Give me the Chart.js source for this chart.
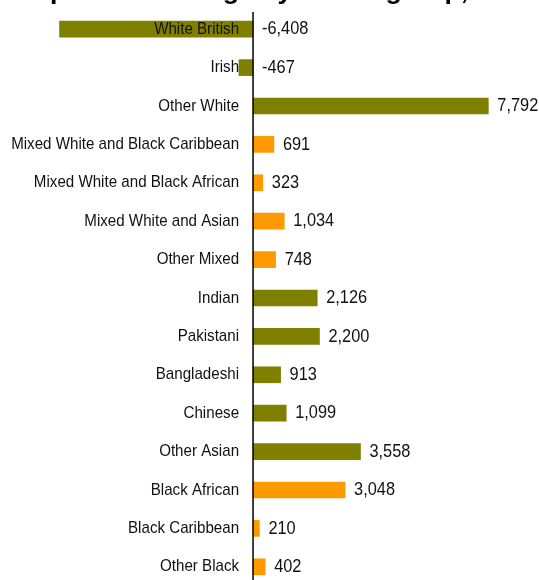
<!DOCTYPE html>
<html>
<head>
<meta charset="utf-8">
<script src="https://cdn.jsdelivr.net/npm/chart.js@4"></script>
<style>
  html, body { margin: 0; padding: 0; background: #fff; overflow: hidden; }
  canvas { display: block; }
</style>
</head>
<body>
<canvas id="ethnicChart" width="539" height="586"></canvas>
<script>
// Population change by ethnic group
const groups = ["White British", "Irish", "Other White",
    "Mixed White and Black Caribbean", "Mixed White and Black African",
    "Mixed White and Asian", "Other Mixed",
    "Indian", "Pakistani", "Bangladeshi", "Chinese", "Other Asian",
    "Black African", "Black Caribbean", "Other Black"];
const broadGroup = ["White", "White", "White",
    "Mixed", "Mixed", "Mixed", "Mixed",
    "Asian", "Asian", "Asian", "Asian", "Asian",
    "Black", "Black", "Black"];
const change = [-6408, -467, 7792, 691, 323, 1034, 748, 2126, 2200, 913, 1099, 3558, 3048, 210, 402];

const titleText = "Population change by ethnic group, 2001 to 2011";

const groupColours = {
    White: "#808000",
    Asian: "#808000",
    Mixed: "#FF9900",
    Black: "#FF9900"
};

// squeezed Arial-style text
function squeezeText(ctx, text, x, y, size, sx, align) {
    ctx.save();
    ctx.font = size + "px 'Liberation Sans', Arial, sans-serif";
    ctx.textBaseline = "middle";
    ctx.textAlign = align;
    ctx.translate(x, y);
    ctx.scale(sx, 1);
    ctx.fillText(text, 0, 0);
    ctx.restore();
}

const labelsPlugin = {
    id: 'barLabels',
    afterDatasetsDraw(chart) {
        const ctx = chart.ctx;
        const xs = chart.scales.x;
        const ys = chart.scales.y;
        const zero = xs.getPixelForValue(0);

        // vertical zero axis
        ctx.save();
        ctx.strokeStyle = "#000";
        ctx.lineWidth = 1.5;
        ctx.beginPath();
        ctx.moveTo(zero, 12);
        ctx.lineTo(zero, chart.height);
        ctx.stroke();
        ctx.restore();

        ctx.fillStyle = "#111";
        groups.forEach((name, i) => {
            const y = ys.getPixelForValue(i);
            squeezeText(ctx, name, zero - 14, y, 17, 0.89, "right");
            const end = xs.getPixelForValue(Math.max(0, change[i]));
            squeezeText(ctx, change[i].toLocaleString("en-GB"), end + 9, y, 19, 0.86, "left");
        });
    },
    afterDraw(chart) {
        const ctx = chart.ctx;
        ctx.save();
        ctx.fillStyle = "#000";
        ctx.font = "bold 26.6px 'Liberation Sans', Arial, sans-serif";
        ctx.textBaseline = "alphabetic";
        ctx.textAlign = "left";
        ctx.fillText(titleText, 16, -1.5);
        ctx.restore();
    }
};

new Chart(document.getElementById("ethnicChart"), {
    type: 'bar',
    data: {
        labels: groups,
        datasets: [{
            data: change,
            backgroundColor: broadGroup.map(g => groupColours[g]),
            borderWidth: 0,
            barThickness: 16
        }]
    },
    options: {
        indexAxis: 'y',
        responsive: false,
        animation: false,
        layout: { padding: { top: 10, left: 0, right: 0, bottom: 0 } },
        scales: {
            x: { display: false, min: -8380, max: 9470 },
            y: { display: false, offset: true }
        },
        plugins: {
            legend: { display: false },
            tooltip: { enabled: false }
        }
    },
    plugins: [labelsPlugin]
});
</script>
</body>
</html>
